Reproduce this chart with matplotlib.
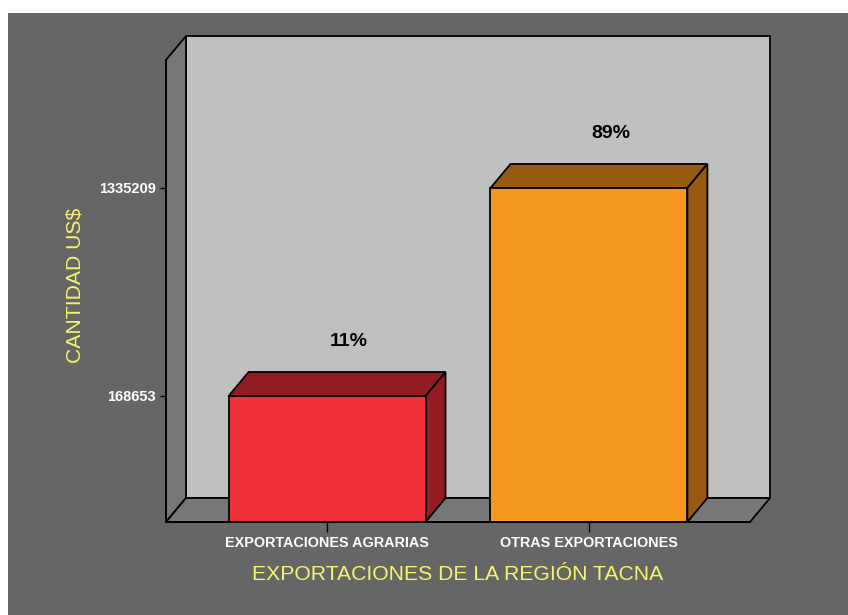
import matplotlib.pyplot as plt
from matplotlib.patches import Polygon, Rectangle

# data
categories = ["EXPORTACIONES AGRARIAS", "OTRAS EXPORTACIONES"]
values = [168653, 1335209]
percent_labels = ["11%", "89%"]
front_colors = ["#f0313a", "#f7981e"]
shade_colors = ["#931c22", "#985a12"]

plt.rcParams["font.family"] = ["Liberation Sans", "DejaVu Sans"]

W, H = 848, 615
fig = plt.figure(figsize=(W / 100, H / 100), dpi=100)
fig.patch.set_facecolor("white")
fig.add_artist(Rectangle((8 / W, 0), 1, (H - 13) / H, transform=fig.transFigure,
                         facecolor="#666666", edgecolor="none", zorder=-10))

# front plane of the 3d box
ax = fig.add_axes([166 / W, (H - 522) / H, 584 / W, 462 / H])
ax.patch.set_visible(False)
x0, x1 = -0.615, 1.615
y0, y1 = -538000, 2053000
ax.set_xlim(x0, x1)
ax.set_ylim(y0, y1)

# depth offset (20px right, 24px up) in data units
dx = 20 * (x1 - x0) / 584
dy = 24 * (y1 - y0) / 462

lw = 1.3
ec = "black"

# back wall
ax.add_patch(Rectangle((x0 + dx, y0 + dy), x1 - x0, y1 - y0, facecolor="#c0c0c0",
                       edgecolor=ec, lw=lw, clip_on=False, zorder=1))
# side wall
ax.add_patch(Polygon([(x0, y0), (x0 + dx, y0 + dy), (x0 + dx, y1 + dy), (x0, y1)],
                     facecolor="#777777", edgecolor=ec, lw=lw, clip_on=False, zorder=2))
# floor
ax.add_patch(Polygon([(x0, y0), (x1, y0), (x1 + dx, y0 + dy), (x0 + dx, y0 + dy)],
                     facecolor="#777777", edgecolor=ec, lw=lw, clip_on=False, zorder=2))

bw = 197 / 262
xs = list(range(len(values)))
heights = [v - y0 for v in values]
ax.bar(xs, heights, bottom=y0, width=bw, color=front_colors, edgecolor=ec,
       linewidth=lw, zorder=5, clip_on=False)

for x, v, sc, lab in zip(xs, values, shade_colors, percent_labels):
    l, r = x - bw / 2, x + bw / 2
    ax.add_patch(Polygon([(l, v), (l + dx, v + dy), (r + dx, v + dy), (r, v)],
                         facecolor=sc, edgecolor=ec, lw=lw, clip_on=False, zorder=4))
    ax.add_patch(Polygon([(r, y0), (r + dx, y0 + dy), (r + dx, v + dy), (r, v)],
                         facecolor=sc, edgecolor=ec, lw=lw, clip_on=False, zorder=4))
    ax.annotate(lab, xy=(x + dx, v + dy), xytext=(2, 22), textcoords="offset pixels",
                ha="center", va="bottom", fontsize=14, fontweight="bold", color="black",
                zorder=6)

for s in ["top", "right"]:
    ax.spines[s].set_visible(False)
for s in ["left", "bottom"]:
    ax.spines[s].set_color(ec)
    ax.spines[s].set_linewidth(lw)
    ax.spines[s].set_zorder(6)

ax.set_yticks(values)
ax.set_yticklabels([str(v) for v in values])
ax.set_xticks(xs)
ax.set_xticklabels(categories)
ax.tick_params(axis="y", length=4.3, width=1, color=ec, pad=3,
               labelsize=10.5, labelcolor="white")
ax.tick_params(axis="x", length=7.2, width=1, color=ec, pad=3,
               labelsize=10.4, labelcolor="white")
for t in ax.get_xticklabels() + ax.get_yticklabels():
    t.set_fontweight("bold")

yellow = "#f5f46c"
fig.text(458 / W, 1 - 575 / H, "EXPORTACIONES DE LA REGIÓN TACNA", color=yellow,
         fontsize=15.2, ha="center", va="center")
fig.text(75 / W, 1 - 285 / H, "CANTIDAD US$", color=yellow, fontsize=15.2,
         rotation=90, ha="center", va="center")

fig.savefig("out.png", dpi=100)
